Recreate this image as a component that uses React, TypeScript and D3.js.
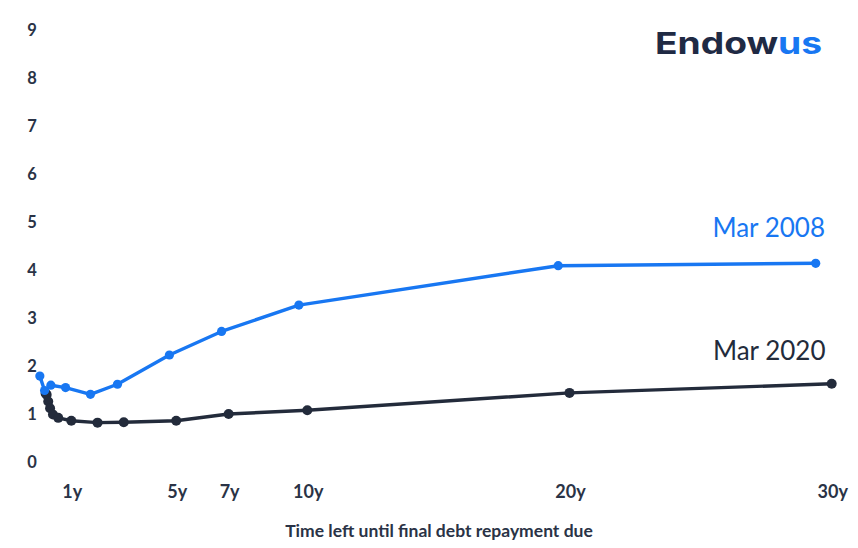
import React from 'react';
import * as d3 from 'd3';

// Mar 2020 curve: years to maturity / yield (%)
const MAR2020_YEARS = [0.02, 0.06, 0.12, 0.19, 0.3, 0.5, 1, 2, 3, 5, 7, 10, 20, 30];
const MAR2020_YIELD = [1.44, 1.41, 1.27, 1.13, 1.0, 0.93, 0.87, 0.83, 0.84, 0.87, 1.01, 1.09, 1.45, 1.64];

// Mar 2008 curve (plotted slightly left of the ticks)
const MAR2008_YEARS = [-0.2, -0.02, 0.22, 0.78, 1.73, 2.76, 4.74, 6.73, 9.68, 19.57, 29.39];
const MAR2008_YIELD = [1.8, 1.5, 1.61, 1.56, 1.42, 1.63, 2.24, 2.73, 3.28, 4.1, 4.15];

const Y_TICKS = [0, 1, 2, 3, 4, 5, 6, 7, 8, 9];
const X_TICKS = [1, 5, 7, 10, 20, 30];
const X_TICK_LABELS = ['1y', '5y', '7y', '10y', '20y', '30y'];

const BLUE = '#1877f2';
const NAVY = '#232b3b';
const TEXT = '#2a3346';
const FONT = 'Lato, "Open Sans", sans-serif';

const W = 858;
const H = 548;

export default function App() {
  const x = d3.scaleLinear().domain([0, 30]).range([45.1, 831.7]);
  const y = d3.scaleLinear().domain([0, 9]).range([462.5, 30.5]);

  const line = d3.line<[number, number]>()
    .x((d) => x(d[0]))
    .y((d) => y(d[1]));

  const s2020: [number, number][] = MAR2020_YEARS.map((t, i) => [t, MAR2020_YIELD[i]]);
  const s2008: [number, number][] = MAR2008_YEARS.map((t, i) => [t, MAR2008_YIELD[i]]);

  return (
    <div style={{ position: 'absolute', left: 0, top: 0, width: W, height: H, background: '#fff' }}>
      <svg width={W} height={H} style={{ display: 'block', fontFamily: FONT }}>
        {/* y tick labels */}
        {Y_TICKS.map((v) => (
          <text key={v} x={32} y={y(v)} dy="0.36em" textAnchor="middle"
            fontSize={16.5} fontWeight={700} fill={TEXT}>{v}</text>
        ))}

        {/* x tick labels */}
        {X_TICKS.map((t, i) => (
          <text key={t} x={x(t) + 1} y={498} textAnchor="middle"
            fontSize={18} fontWeight={700} fill={TEXT}>{X_TICK_LABELS[i]}</text>
        ))}

        <text x={439} y={537} textAnchor="middle" fontSize={17.5} fontWeight={700} fill={TEXT}>
          Time left until final debt repayment due
        </text>

        {/* Mar 2020 */}
        <path d={line(s2020) ?? ''} fill="none" stroke={NAVY} strokeWidth={3.4}
          strokeLinejoin="round" strokeLinecap="round" />
        {s2020.map((d, i) => (
          <circle key={i} cx={x(d[0])} cy={y(d[1])} r={5} fill={NAVY} />
        ))}

        {/* Mar 2008 */}
        <path d={line(s2008) ?? ''} fill="none" stroke={BLUE} strokeWidth={3.4}
          strokeLinejoin="round" strokeLinecap="round" />
        {s2008.map((d, i) => (
          <circle key={i} cx={x(d[0])} cy={y(d[1])} r={4.6} fill={BLUE} />
        ))}

        {/* series labels */}
        <text x={825} y={237} textAnchor="end" fontSize={26} fill={BLUE}>Mar 2008</text>
        <text x={825.5} y={360} textAnchor="end" fontSize={26} fill={NAVY}>Mar 2020</text>

        {/* logo */}
        <text x={655} y={53.5} fontSize={30} fontWeight={700} fill="#1f2a44"
          fontFamily='Inter, "Noto Sans", sans-serif'
          textLength={167} lengthAdjust="spacingAndGlyphs">
          Endow<tspan fill={BLUE}>us</tspan>
        </text>
      </svg>
    </div>
  );
}
